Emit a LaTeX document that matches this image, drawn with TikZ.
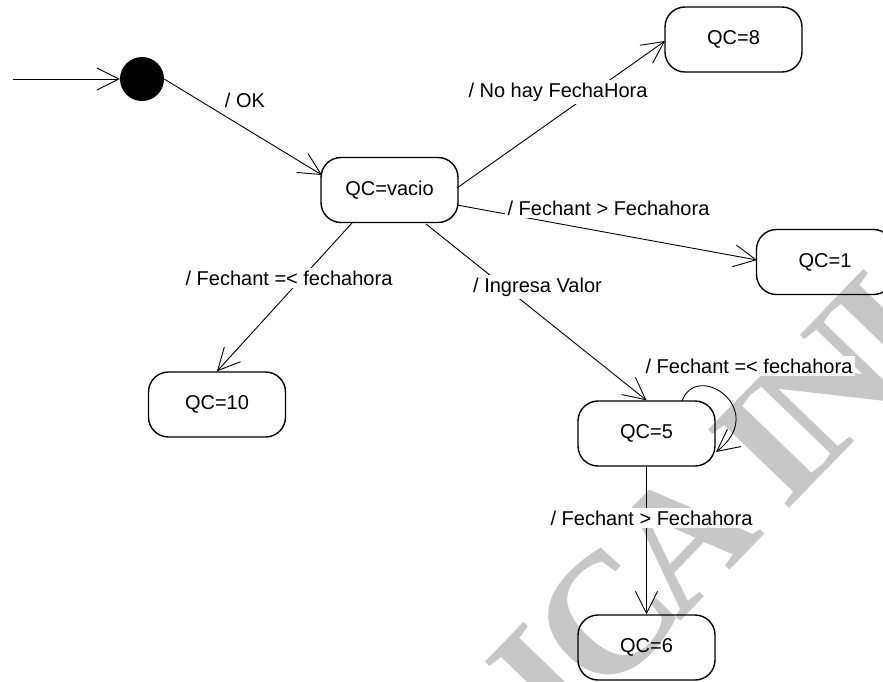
\documentclass[tikz,border=0pt]{standalone}
\usepackage{fontspec}
\setmainfont{Liberation Sans}
\newfontfamily\wmfont{Liberation Serif}[BoldFont={Liberation Serif Bold}]
\usetikzlibrary{arrows.meta,calc}

\begin{document}
\begin{tikzpicture}[x=1pt,y=-1pt,
  state/.style={draw, line width=1.4pt, rounded corners=20pt,
    minimum width=137pt, minimum height=65pt, inner sep=0pt,
    font=\fontsize{20}{24}\selectfont},
  trans/.style={line width=0.9pt,
    -{Straight Barb[length=22pt,width=22pt,line width=0.9pt]}},
  lbl/.style={fill=white, inner sep=3pt, anchor=base,
    font=\fontsize{20}{24}\selectfont},
  watermark/.style={text=black!22, rotate=46, inner sep=0pt,
    font=\wmfont\bfseries\fontsize{172}{172}\selectfont},
  ]
\useasboundingbox (0,0) rectangle (883,681);
\fill[white] (0,0) rectangle (883,681);

% background stamp, tightly tracked
\node[watermark] (wm) at (715,505)
  {I\kern-8pt C\kern-14pt A\kern-14pt\ I\kern-12pt N\kern-12pt I};

% states
\node[circle, fill=black, minimum size=44pt, inner sep=0pt] (init) at (142,79) {};
\coordinate (start) at (13,79);
\node[state] (vacio) at (389.5,190) {QC=vacio};
\node[state] (q8)  at (733.5,39.5) {QC=8};
\node[state] (q1)  at (825,262) {QC=1};
\node[state] (q10) at (217,404.5) {QC=10};
\node[state] (q5)  at (646.5,433.5) {QC=5};
\node[state] (q6)  at (646.5,647.5) {QC=6};

% transitions
\draw[trans] (start) -- (init);
\draw[trans] (init.east) -- ($(vacio.center)+(-67.5,-15)$);
\draw[trans] ($(vacio.center)+(67.5,-2)$) -- ($(q8.center)+(-68.5,1.5)$);
\draw[trans] ($(vacio.center)+(67.5,15)$) -- ($(q1.center)+(-68,-2)$);
\draw[trans] ($(vacio.center)+(-37.5,33)$) -- (q10.north);
\draw[trans] ($(vacio.center)+(36.5,34)$) -- (q5.north);
\draw[trans] ($(q5.center)+(35.5,-32.5)$)
  .. controls ($(q5.center)+(50.5,-73.5)$) and ($(q5.center)+(123.5,-23.5)$)
  .. ($(q5.center)+(69.5,18.5)$);
\draw[trans] (q5.south) -- (q6.north);

% transition labels
\node[lbl] (lok)  at (245,107) {/ OK};
\node[lbl] (lno)  at (558,97)  {/ No hay FechaHora};
\node[lbl] (lgt1) at (608.5,215) {/ Fechant > Fechahora};
\node[lbl] (lle1) at (289,285) {/ Fechant =< fechahora};
\node[lbl] (ling) at (537.5,292) {/ Ingresa Valor};
\node[lbl] (lle2) at (749,373) {/ Fechant =< fechahora};
\node[lbl] (lgt2) at (651.5,525) {/ Fechant > Fechahora};
\end{tikzpicture}
\end{document}
